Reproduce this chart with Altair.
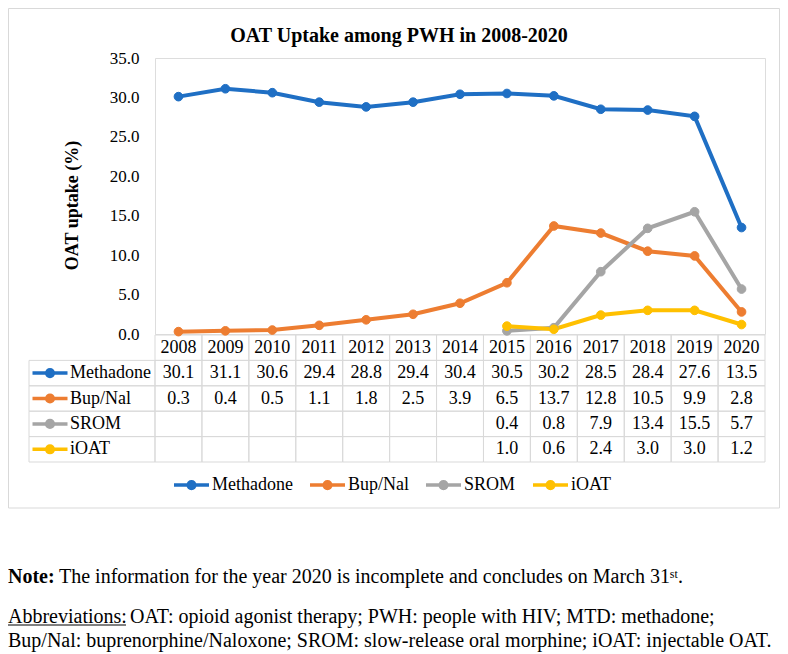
import altair as alt
import pandas as pd

# ---------------- data ----------------
years = [2008, 2009, 2010, 2011, 2012, 2013, 2014, 2015, 2016, 2017, 2018, 2019, 2020]
series_names = ["Methadone", "Bup/Nal", "SROM", "iOAT"]
methadone = [30.1, 31.1, 30.6, 29.4, 28.8, 29.4, 30.4, 30.5, 30.2, 28.5, 28.4, 27.6, 13.5]
bup_nal = [0.3, 0.4, 0.5, 1.1, 1.8, 2.5, 3.9, 6.5, 13.7, 12.8, 10.5, 9.9, 2.8]
srom = [None, None, None, None, None, None, None, 0.4, 0.8, 7.9, 13.4, 15.5, 5.7]
ioat = [None, None, None, None, None, None, None, 1.0, 0.6, 2.4, 3.0, 3.0, 1.2]
colors = ["#1F6FC4", "#ED7D31", "#A5A5A5", "#FFC000"]
y_ticks = [0, 5, 10, 15, 20, 25, 30, 35]

title_text = "OAT Uptake among PWH in 2008-2020"
y_title = "OAT uptake (%)"
note_label = "Note:"
note_text = "The information for the year 2020 is incomplete and concludes on March 31\u02e2\u1d57."
abbr_label = "Abbreviations:"
abbr_line1 = "OAT: opioid agonist therapy; PWH: people with HIV; MTD: methadone;"
abbr_line2 = "Bup/Nal: buprenorphine/Naloxone; SROM: slow-release oral morphine; iOAT: injectable OAT."

# ---------------- tables built from the arrays ----------------
recs = []
for i, (name, vals) in enumerate(zip(series_names, [methadone, bup_nal, srom, ioat])):
    for yr, v in zip(years, vals):
        if v is not None:
            recs.append({"year": yr, "series": name, "value": v, "row": i + 1})
df = pd.DataFrame(recs)

cells = pd.DataFrame([{"year": yr, "row": r} for yr in years for r in range(5)])
years_df = pd.DataFrame({"year": years, "row": [0] * len(years)})
labels_df = pd.DataFrame({"series": series_names, "row": list(range(1, 5))})

FONT = "Liberation Serif"
GRID = "#D9D9D9"
SYMBOL = "M-1,0H1M0.19,0A0.19,0.19,0,1,1,-0.19,0A0.19,0.19,0,1,1,0.19,0Z"

x_scale = alt.Scale(domain=[2007.5, 2020.5], nice=False, zero=False)
y_scale = alt.Scale(domain=[0, 35], nice=False, zero=True)
t_scale = alt.Scale(domain=[0, 5], range=[277, 404], nice=False, zero=False)
c_scale = alt.Scale(domain=series_names, range=colors)

legend = alt.Legend(
    title=None, orient="none", legendX=17, legendY=407.5, direction="horizontal",
    symbolType=SYMBOL, symbolSize=1225, symbolStrokeWidth=3.5,
    labelFont=FONT, labelFontSize=18, labelColor="black", labelOffset=1,
    columnPadding=10, padding=0,
)

# ---------------- frame ----------------
frame = alt.Chart(pd.DataFrame({"k": [0]})).mark_rect(
    fill="transparent", stroke=GRID, strokeWidth=1
).encode(
    x=alt.value(-146.5), x2=alt.value(624.5), y=alt.value(-49.5), y2=alt.value(450)
)

# ---------------- data table ----------------
cell_rects = alt.Chart(cells).transform_calculate(
    x0="datum.year - 0.5", x1="datum.year + 0.5", r0="datum.row", r1="datum.row + 1"
).mark_rect(fill="transparent", stroke=GRID, strokeWidth=1).encode(
    x=alt.X("x0:Q", scale=x_scale, axis=None),
    x2="x1:Q",
    y=alt.Y("r0:Q", scale=t_scale, axis=None),
    y2="r1:Q",
)

label_rects = alt.Chart(labels_df).transform_calculate(
    r0="datum.row", r1="datum.row + 1"
).mark_rect(fill="transparent", stroke=GRID, strokeWidth=1).encode(
    x=alt.value(-126), x2=alt.value(0),
    y=alt.Y("r0:Q", scale=t_scale, axis=None),
    y2="r1:Q",
)

year_text = alt.Chart(years_df).transform_calculate(
    yc="datum.row + 0.5"
).mark_text(font=FONT, fontSize=18, color="black", baseline="middle", align="center").encode(
    x=alt.X("year:Q", scale=x_scale, axis=None),
    y=alt.Y("yc:Q", scale=t_scale, axis=None),
    text=alt.Text("year:N"),
)

value_text = alt.Chart(df).transform_calculate(
    yc="datum.row + 0.5"
).mark_text(font=FONT, fontSize=18, color="black", baseline="middle", align="center").encode(
    x=alt.X("year:Q", scale=x_scale, axis=None),
    y=alt.Y("yc:Q", scale=t_scale, axis=None),
    text=alt.Text("value:Q", format=".1f"),
)

label_text = alt.Chart(labels_df).transform_calculate(
    yc="datum.row + 0.5"
).mark_text(font=FONT, fontSize=18, color="black", baseline="middle", align="left").encode(
    x=alt.value(-85),
    y=alt.Y("yc:Q", scale=t_scale, axis=None),
    text="series:N",
)

label_symbols = alt.Chart(labels_df).transform_calculate(
    yc="datum.row + 0.5"
).mark_point(shape=SYMBOL, size=1225, filled=True, strokeWidth=3.5, opacity=1).encode(
    x=alt.value(-105),
    y=alt.Y("yc:Q", scale=t_scale, axis=None),
    fill=alt.Fill("series:N", scale=c_scale, legend=legend),
    stroke=alt.Stroke("series:N", scale=c_scale, legend=legend),
)

# ---------------- lines ----------------
y_axis = alt.Axis(
    values=y_ticks, format=".1f", domain=False, ticks=False, grid=False,
    labelFont=FONT, labelFontSize=17, labelColor="black", labelPadding=16,
    title=y_title, titleFont=FONT, titleFontSize=18, titleFontWeight="bold",
    titleColor="black", titleX=-83, titleY=147, titleAngle=270,
    titleAlign="center", titleBaseline="middle",
)

lines = alt.Chart(df).mark_line(strokeWidth=4).encode(
    x=alt.X("year:Q", scale=x_scale, axis=None),
    y=alt.Y("value:Q", scale=y_scale, axis=y_axis),
    color=alt.Color("series:N", scale=c_scale, legend=None),
)

points = alt.Chart(df).mark_circle(size=75, opacity=1, strokeWidth=1).encode(
    x=alt.X("year:Q", scale=x_scale, axis=None),
    y=alt.Y("value:Q", scale=y_scale, axis=None),
    fill=alt.Fill("series:N", scale=c_scale, legend=legend),
    stroke=alt.Stroke("series:N", scale=c_scale, legend=legend),
)

# ---------------- notes ----------------
def note(txt, x, y, weight="normal"):
    return alt.Chart(pd.DataFrame({"t": [txt]})).mark_text(
        font=FONT, fontSize=20, fontWeight=weight, color="black",
        align="left", baseline="alphabetic",
    ).encode(x=alt.value(x), y=alt.value(y), text="t:N")

n1 = note(note_label, -147, 525, "bold")
n2 = note(note_text, -96, 525)
a1 = note(abbr_label, -147, 565)
a_line = alt.Chart(pd.DataFrame({"t": [abbr_label]})).mark_rule(color="black", strokeWidth=1).encode(
    x=alt.value(-147), x2=alt.value(-29), y=alt.value(567)
)
a2 = note(abbr_line1, -25, 565)
a3 = note(abbr_line2, -147, 589)

chart = alt.layer(
    frame, cell_rects, label_rects, year_text, value_text, label_text, label_symbols,
    lines, points, n1, n2, a1, a_line, a2, a3,
).resolve_scale(y="independent").properties(
    width=610,
    height=276,
    padding={"left": 147, "top": 50, "right": 15, "bottom": 320},
    autosize=alt.AutoSizeParams(type="none"),
    title=alt.TitleParams(
        text=title_text, font=FONT, fontSize=20, fontWeight="bold", color="black",
        anchor="middle", frame="group", dx=-61, offset=0, dy=53.5,
        baseline="alphabetic",
    ),
).configure_view(stroke=None).configure(background="white")

chart.save("out.html", embed_options={"renderer": "svg", "actions": False})
